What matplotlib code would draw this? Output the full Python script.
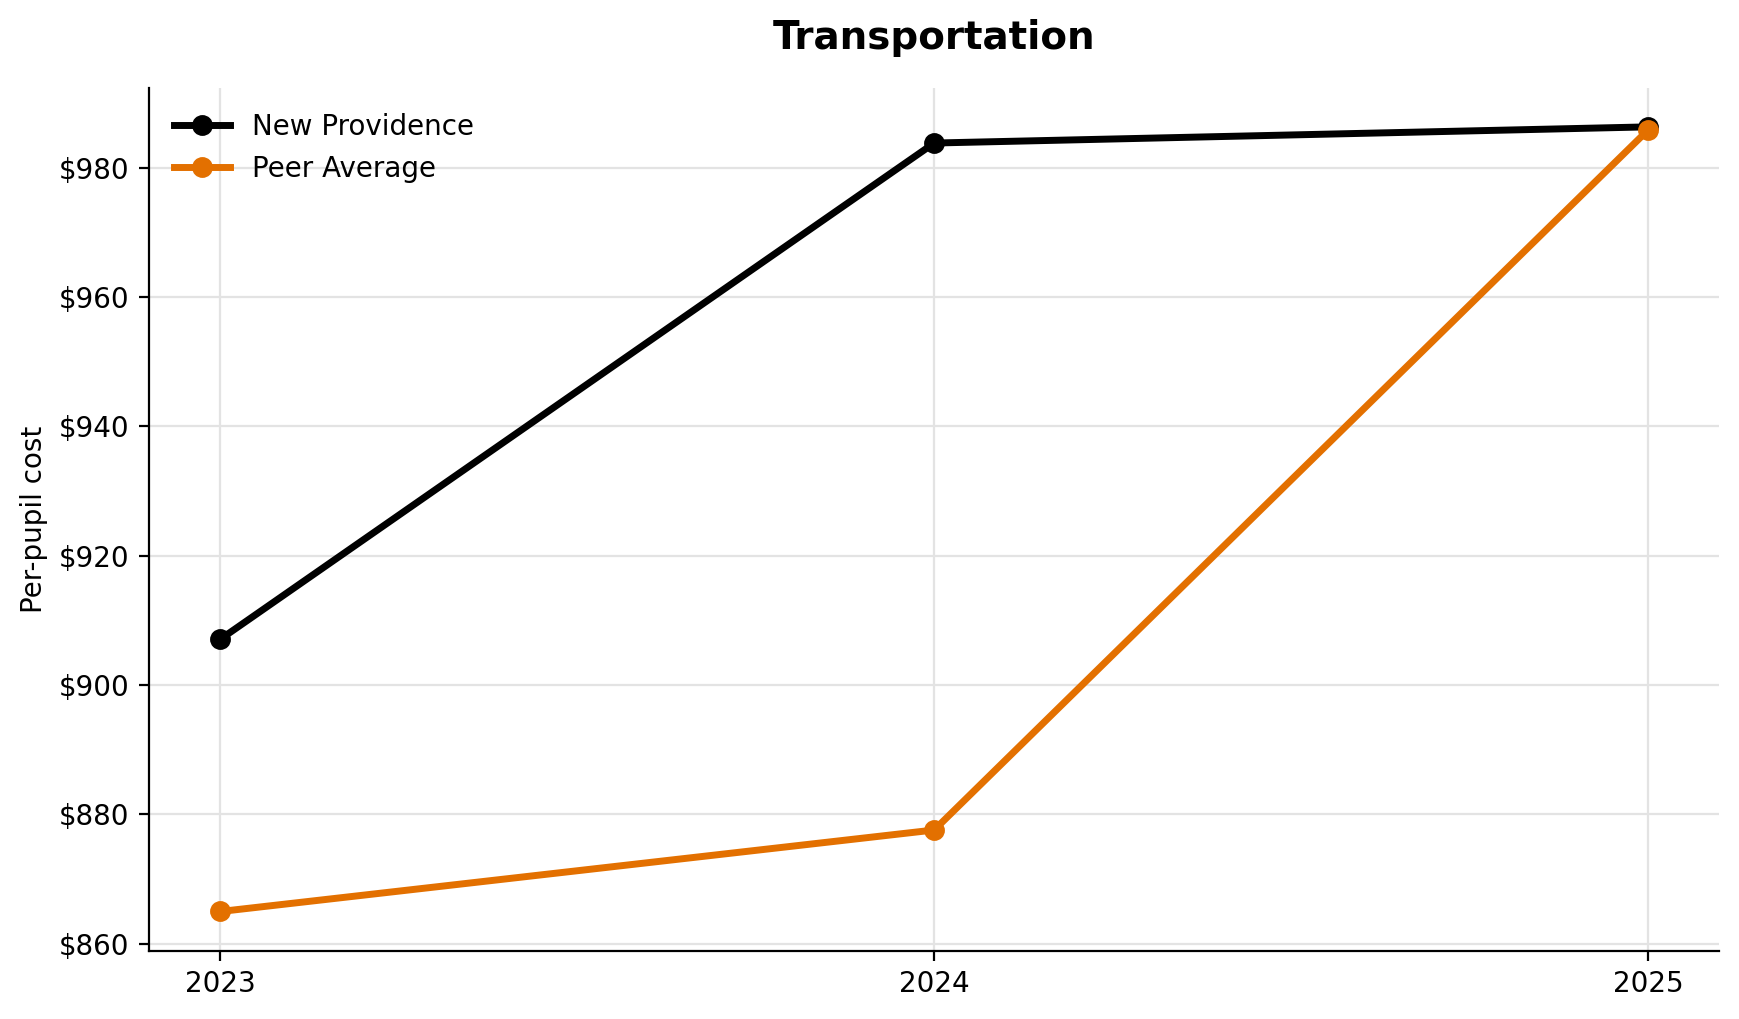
import matplotlib
matplotlib.use("Agg")
import matplotlib.pyplot as plt
from matplotlib.ticker import FuncFormatter

years = [2023, 2024, 2025]
new_providence = [907.1, 983.8, 986.3]
peer_average = [865.0, 877.6, 985.8]
series_labels = ["New Providence", "Peer Average"]
series_colors = ["#000000", "#E37000"]

fig = plt.figure(figsize=(8.695, 5.095), dpi=200)
ax = fig.add_axes([0.0857, 0.067, 0.903, 0.847])

for vals, lab, col in zip([new_providence, peer_average], series_labels, series_colors):
    ax.plot(years, vals, color=col, linewidth=2.5, marker="o", markersize=6.5, label=lab)

ax.set_xticks(years)
ax.set_xticklabels([str(y) for y in years])
ax.yaxis.set_major_formatter(FuncFormatter(lambda v, p: f"${v:,.0f}"))
ax.set_ylabel("Per-pupil cost", fontsize=10)
ax.set_title("Transportation", fontsize=14, fontweight="bold", pad=13.8)
ax.grid(True, color="#e3e3e3", linewidth=0.8)
ax.set_axisbelow(True)
ax.spines["top"].set_visible(False)
ax.spines["right"].set_visible(False)
ax.tick_params(labelsize=10)
ax.legend(loc="upper left", frameon=False, fontsize=10)

fig.savefig("out.png", dpi=200)
